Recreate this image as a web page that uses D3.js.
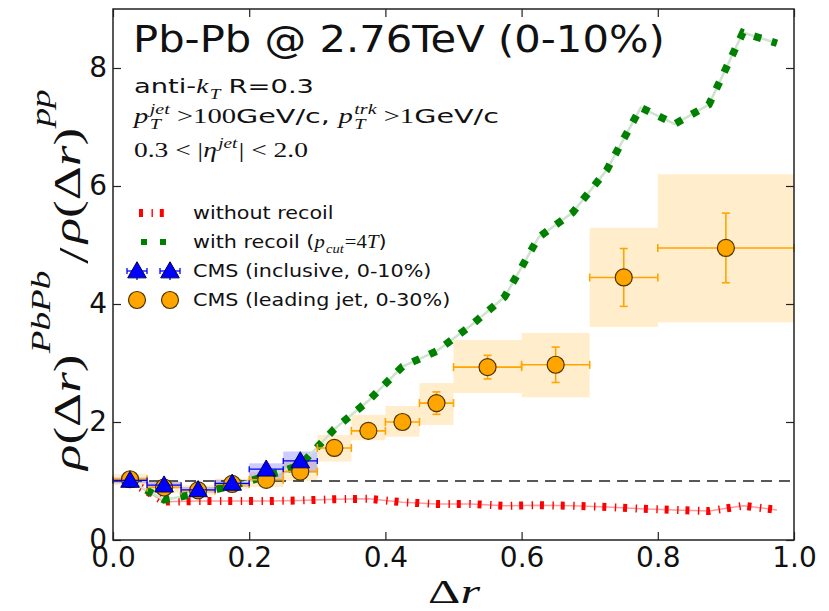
<!DOCTYPE html>
<html>
<head>
<meta charset="utf-8">
<script src="https://cdnjs.cloudflare.com/ajax/libs/d3/7.8.5/d3.min.js"></script>
<style>
  body { margin: 0; background: #fff; }
  .tick text { font-family: "DejaVu Sans", sans-serif; font-size: 28px; fill: #111; }
  .tick line { stroke: #222; stroke-width: 1.2px; }
</style>
</head>
<body>
<script>

// model curves, sampled at bin centres
var curveX = [0.025, 0.075, 0.125, 0.175, 0.225, 0.275, 0.325, 0.375, 0.425, 0.475,
              0.525, 0.575, 0.625, 0.675, 0.725, 0.775, 0.825, 0.875, 0.925, 0.975];
var withRecoil = [1.0, 0.68, 0.79, 0.92, 1.08, 1.27, 1.88, 2.36, 2.94, 3.2,
                  3.63, 4.12, 5.13, 5.55, 6.27, 7.33, 7.05, 7.38, 8.6, 8.42];
var withoutRecoil = [1.0, 0.65, 0.66, 0.66, 0.66, 0.67, 0.69, 0.70, 0.64, 0.61,
                     0.61, 0.58, 0.59, 0.58, 0.56, 0.53, 0.51, 0.49, 0.58, 0.51];

// CMS inclusive, 0-10%
var inclX    = [0.025, 0.075, 0.125, 0.175, 0.225, 0.275];
var inclY    = [1.01, 0.93, 0.85, 0.96, 1.2, 1.34];
var inclStat = [0.02, 0.02, 0.02, 0.03, 0.04, 0.05];
var inclSysLo = [0.96, 0.88, 0.80, 0.90, 1.03, 1.14];
var inclSysHi = [1.06, 0.99, 0.90, 1.02, 1.30, 1.50];

// CMS leading jet, 0-30%
var leadX    = [0.025, 0.075, 0.125, 0.175, 0.225, 0.275, 0.325, 0.375, 0.425, 0.475, 0.55, 0.65, 0.75, 0.9];
var leadXErr = [0.025, 0.025, 0.025, 0.025, 0.025, 0.025, 0.025, 0.025, 0.025, 0.025, 0.05, 0.05, 0.05, 0.1];
var leadY    = [1.03, 0.89, 0.84, 0.95, 1.02, 1.16, 1.56, 1.85, 2.0, 2.32, 2.93, 2.97, 4.45, 4.95];
var leadStat = [0.03, 0.03, 0.03, 0.03, 0.04, 0.05, 0.06, 0.08, 0.12, 0.19, 0.2, 0.3, 0.49, 0.59];
var leadSysLo = [0.93, 0.80, 0.76, 0.86, 0.90, 1.00, 1.33, 1.69, 1.75, 1.95, 2.49, 2.42, 3.61, 3.69];
var leadSysHi = [1.12, 0.98, 0.93, 1.04, 1.15, 1.36, 1.78, 2.12, 2.27, 2.66, 3.39, 3.51, 5.29, 6.2];

var xTicks = [0, 0.2, 0.4, 0.6, 0.8, 1.0];
var yTicks = [0, 2, 4, 6, 8];

var SANS = "'DejaVu Sans', sans-serif";
var SERIF = "'Liberation Serif', 'DejaVu Serif', serif";

var W = 829, H = 611;
var margin = {top: 9, right: 35, bottom: 71, left: 113};

var svg = d3.select("body").append("svg")
    .attr("width", W).attr("height", H);

var x = d3.scaleLinear().domain([0, 1]).range([margin.left, W - margin.right]);
var y = d3.scaleLinear().domain([0, 9]).range([H - margin.bottom, margin.top]);

// systematic boxes
svg.append("g").selectAll("rect")
  .data(leadX).enter().append("rect")
    .attr("x", function(d, i) { return x(d - leadXErr[i]); })
    .attr("width", function(d, i) { return x(d + leadXErr[i]) - x(d - leadXErr[i]); })
    .attr("y", function(d, i) { return y(leadSysHi[i]); })
    .attr("height", function(d, i) { return y(leadSysLo[i]) - y(leadSysHi[i]); })
    .attr("fill", "#ffa500").attr("fill-opacity", 0.2);

svg.append("g").selectAll("rect")
  .data(inclX).enter().append("rect")
    .attr("x", function(d) { return x(d - 0.025); })
    .attr("width", x(0.05) - x(0))
    .attr("y", function(d, i) { return y(inclSysHi[i]); })
    .attr("height", function(d, i) { return y(inclSysLo[i]) - y(inclSysHi[i]); })
    .attr("fill", "#0000ff").attr("fill-opacity", 0.2);

// reference line at 1
svg.append("line")
    .attr("x1", x(0)).attr("x2", x(1)).attr("y1", y(1)).attr("y2", y(1))
    .attr("stroke", "#222").attr("stroke-width", 1.5).attr("stroke-dasharray", "11,7");

var line = d3.line()
    .x(function(d, i) { return x(curveX[i]); })
    .y(function(d) { return y(d); });

// without recoil
svg.append("path").datum(withoutRecoil).attr("d", line)
    .attr("fill", "none").attr("stroke", "#ff9a9a").attr("stroke-width", 1.5);
svg.append("path").datum(withoutRecoil).attr("d", line)
    .attr("fill", "none").attr("stroke", "#ff0000").attr("stroke-width", 8)
    .attr("stroke-dasharray", "4,8.5,1.4,6.9");

// with recoil
svg.append("path").datum(withRecoil).attr("d", line)
    .attr("fill", "none").attr("stroke", "#cfe3cf").attr("stroke-width", 2.5);
svg.append("path").datum(withRecoil).attr("d", line)
    .attr("fill", "none").attr("stroke", "#008000").attr("stroke-width", 7.5)
    .attr("stroke-dasharray", "7.5,11");

// error bars helper
function errBars(g, xs, xe, ys, ye, color, w, cap) {
  xs.forEach(function(d, i) {
    var cx = x(d), cy = y(ys[i]);
    var x0 = x(d - xe[i]), x1 = x(d + xe[i]);
    var y0 = y(ys[i] - ye[i]), y1 = y(ys[i] + ye[i]);
    var segs = [[x0, cy, x1, cy], [cx, y0, cx, y1],
                [x0, cy - cap, x0, cy + cap], [x1, cy - cap, x1, cy + cap],
                [cx - cap, y0, cx + cap, y0], [cx - cap, y1, cx + cap, y1]];
    segs.forEach(function(s) {
      g.append("line").attr("x1", s[0]).attr("y1", s[1]).attr("x2", s[2]).attr("y2", s[3])
        .attr("stroke", color).attr("stroke-width", w);
    });
  });
}

var gLead = svg.append("g");
errBars(gLead, leadX, leadXErr, leadY, leadStat, "#ffa500", 1.6, 4);
gLead.selectAll("circle").data(leadX).enter().append("circle")
    .attr("cx", function(d) { return x(d); })
    .attr("cy", function(d, i) { return y(leadY[i]); })
    .attr("r", 8.5)
    .attr("fill", "#ffa500").attr("stroke", "#4d3300").attr("stroke-width", 1.2);

var tri = d3.symbol().type(d3.symbolTriangle).size(150);
var gIncl = svg.append("g");
errBars(gIncl, inclX, inclX.map(function() { return 0.025; }), inclY, inclStat, "#0000ff", 1.3, 3);
gIncl.selectAll("path.tri").data(inclX).enter().append("path")
    .attr("class", "tri")
    .attr("transform", function(d, i) { return "translate(" + x(d) + "," + (y(inclY[i]) + 1.5) + ")"; })
    .attr("d", tri)
    .attr("fill", "#0000ff").attr("stroke", "#000050").attr("stroke-width", 1);

// axes, ticks pointing inward
var fmtX = d3.format(".1f");
svg.append("g").attr("transform", "translate(0," + y(0) + ")")
    .call(d3.axisBottom(x).tickValues(xTicks).tickFormat(fmtX).tickSize(-8).tickSizeOuter(0).tickPadding(7))
    .call(function(g) { g.select(".domain").remove(); });
svg.append("g").attr("transform", "translate(0," + y(9) + ")")
    .call(d3.axisTop(x).tickValues(xTicks).tickFormat("").tickSize(-8).tickSizeOuter(0))
    .call(function(g) { g.select(".domain").remove(); });
svg.append("g").attr("transform", "translate(" + x(0) + ",0)")
    .call(d3.axisLeft(y).tickValues(yTicks).tickFormat(d3.format("d")).tickSize(-8).tickSizeOuter(0).tickPadding(6))
    .call(function(g) { g.select(".domain").remove(); });
svg.append("g").attr("transform", "translate(" + x(1) + ",0)")
    .call(d3.axisRight(y).tickValues(yTicks).tickFormat("").tickSize(-8).tickSizeOuter(0))
    .call(function(g) { g.select(".domain").remove(); });

svg.append("rect")
    .attr("x", x(0)).attr("y", y(9))
    .attr("width", x(1) - x(0)).attr("height", y(0) - y(9))
    .attr("fill", "none").attr("stroke", "#222").attr("stroke-width", 1.5);

// lays out a row of text pieces, returns the group and its width
function mathRow(parent, parts, size) {
  var g = parent.append("g");
  var cx = 0;
  function put(t, px, py, fs, serif, it) {
    var el = g.append("text").attr("x", px).attr("y", py)
      .attr("font-family", serif ? SERIF : SANS)
      .attr("font-style", it ? "italic" : "normal")
      .attr("font-size", fs).attr("fill", "#111").text(t);
    return el.node().getComputedTextLength();
  }
  parts.forEach(function(p) {
    var fs = size * (p.scale || 1);
    var w = put(p.t, cx, (p.shift || 0) * size, fs, p.serif, p.it);
    cx += w;
    var ws = 0;
    if (p.sub) ws = put(p.sub, cx + 1, size * (p.subShift || 0.28), size * 0.7, true, true);
    if (p.sup) ws = Math.max(ws, put(p.sup, cx + 1, -size * (p.supShift || 0.45), size * 0.7, true, true));
    if (ws) cx += ws + 2;
    cx += (p.gap || 0);
  });
  return {g: g, width: cx};
}

// place a row at (px, py), stretched to a given width
function place(row, px, py, width) {
  var s = width ? width / row.width : 1;
  row.g.attr("transform", "translate(" + px + "," + py + ") scale(" + s + ",1)");
}

// title and annotations
var title = mathRow(svg, [{t: "Pb-Pb @ 2.76TeV (0-10%)"}], 37);
place(title, 133, 52, 532);

var a1 = mathRow(svg, [
  {t: "anti-"}, {t: "k", serif: true, it: true, sub: "T", gap: 5}, {t: "R=0.3"}
], 20);
place(a1, 134, 93, 180);

var a2 = mathRow(svg, [
  {t: "p", serif: true, it: true, sub: "T", sup: "jet", gap: 4},
  {t: ">100", serif: true}, {t: "GeV/c,", gap: 6},
  {t: "p", serif: true, it: true, sub: "T", sup: "trk", gap: 4},
  {t: ">1", serif: true}, {t: "GeV/c"}
], 20);
place(a2, 134, 123, 365);

var a3 = mathRow(svg, [
  {t: "0.3 < |", serif: true}, {t: "η", serif: true, it: true, sup: "jet"},
  {t: "| < 2.0", serif: true}
], 20);
place(a3, 134, 157, 174);

// legend
var leg = svg.append("g");
var legY = [213, 242, 271, 300];
var legTextX = 193;
var stretch = 1.15;

leg.append("line").attr("x1", 139).attr("x2", 168).attr("y1", legY[0]).attr("y2", legY[0])
    .attr("stroke", "#ff0000").attr("stroke-width", 8).attr("stroke-dasharray", "4,8.5,1.4,6.9");
leg.append("line").attr("x1", 141).attr("x2", 167).attr("y1", legY[1]).attr("y2", legY[1])
    .attr("stroke", "#008000").attr("stroke-width", 6).attr("stroke-dasharray", "6,13");

[137, 170].forEach(function(px) {
  var cy = legY[2];
  [[px - 10, cy, px + 10, cy], [px, cy - 9, px, cy + 9],
   [px - 10, cy - 3, px - 10, cy + 3], [px + 10, cy - 3, px + 10, cy + 3]].forEach(function(s) {
    leg.append("line").attr("x1", s[0]).attr("y1", s[1]).attr("x2", s[2]).attr("y2", s[3])
      .attr("stroke", "#0000ff").attr("stroke-width", 1.3);
  });
  leg.append("path").attr("transform", "translate(" + px + "," + (cy + 1.5) + ")").attr("d", tri)
    .attr("fill", "#0000ff").attr("stroke", "#000050").attr("stroke-width", 1);
  leg.append("circle").attr("cx", px).attr("cy", legY[3]).attr("r", 8.5)
    .attr("fill", "#ffa500").attr("stroke", "#4d3300").attr("stroke-width", 1.2);
});

var legRows = [
  [{t: "without recoil"}],
  [{t: "with recoil ("}, {t: "p", serif: true, it: true, sub: "cut", subShift: 0.3},
   {t: "=4", serif: true}, {t: "T", serif: true, it: true}, {t: ")"}],
  [{t: "CMS (inclusive, 0-10%)"}],
  [{t: "CMS (leading jet, 0-30%)"}]
];
legRows.forEach(function(parts, i) {
  var r = mathRow(leg, parts, 18);
  place(r, legTextX, legY[i] + 6, r.width * stretch);
});

// axis labels
var xl = mathRow(svg, [{t: "Δ", serif: true}, {t: "r", serif: true, it: true}], 33);
place(xl, 428, 603, 52);

var ylab = svg.append("g");
var yl = mathRow(ylab, [
  {t: "ρ", serif: true, it: true}, {t: "(Δ", serif: true}, {t: "r", serif: true, it: true},
  {t: ")", serif: true, sup: "PbPb", supShift: 0.78, gap: 4},
  {t: "/", serif: true, scale: 1.1, shift: 0.2, gap: 3},
  {t: "ρ", serif: true, it: true}, {t: "(Δ", serif: true}, {t: "r", serif: true, it: true},
  {t: ")", serif: true, sup: "pp", supShift: 0.78}
], 38);
var ylScale = 382 / yl.width;
yl.g.attr("transform", "translate(80,470) rotate(-90) scale(" + ylScale + ",1)");

</script>
</body>
</html>
